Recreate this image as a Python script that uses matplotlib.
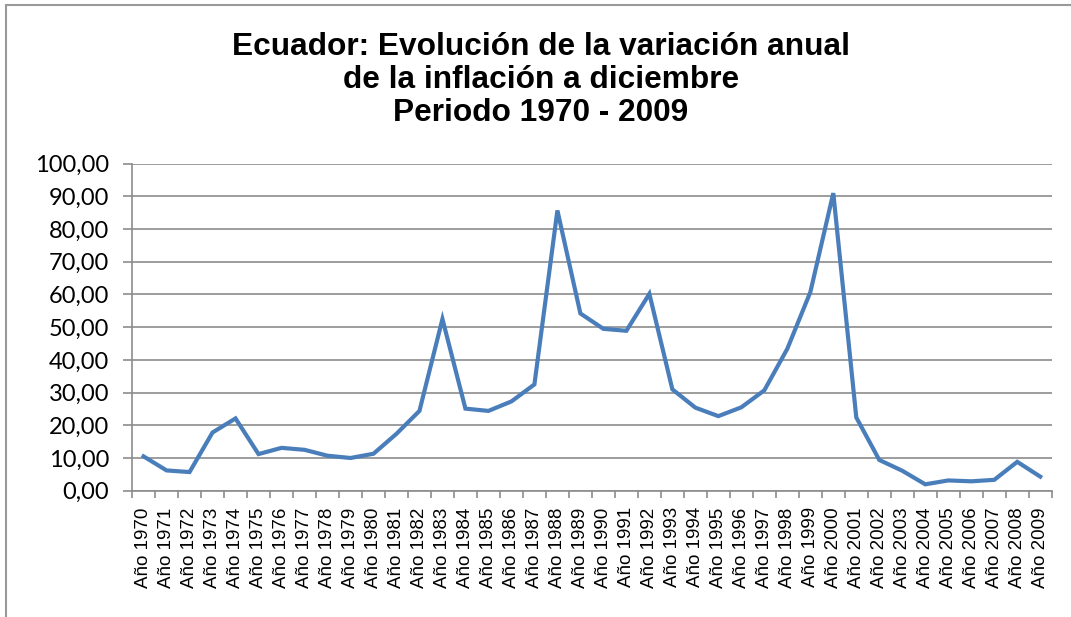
import matplotlib
matplotlib.use("Agg")
from matplotlib import pyplot as plt
from matplotlib.ticker import FuncFormatter, FixedLocator, NullFormatter
from matplotlib.patches import Rectangle

# Data
years = list(range(1970, 2010))
labels = [f"Año {y}" for y in years]
inflation = [10.5, 6.2, 5.7, 17.8, 22.1, 11.2, 13.1, 12.5, 10.7, 10.0,
             11.3, 17.4, 24.4, 52.5, 25.1, 24.4, 27.3, 32.5, 85.7, 54.2,
             49.5, 48.9, 60.2, 31.0, 25.4, 22.8, 25.5, 30.7, 43.4, 60.7,
             91.0, 22.4, 9.4, 6.1, 1.95, 3.14, 2.87, 3.32, 8.83, 4.31]

fig = plt.figure(figsize=(10.71, 6.17), dpi=100)
ax = fig.add_axes([0.1233, 0.2047, 0.8587, 0.53])

x = list(range(len(years)))
ax.plot(x, inflation, color="#4A7EBB", linewidth=3.0, solid_joinstyle="miter")

ax.set_xlim(-0.5, len(years) - 0.5)
ax.set_ylim(0, 100)
ax.set_yticks(range(0, 101, 10))
ax.yaxis.set_major_formatter(FuncFormatter(lambda v, p: f"{v:.2f}".replace(".", ",")))
ax.grid(axis="y", color="#8c8c8c", linewidth=1.2)
ax.set_axisbelow(True)

# labels at category centres, ticks at category boundaries
ax.set_xticks(x)
ax.set_xticklabels(labels, rotation=90, fontsize=13.5, family="Liberation Sans")
ax.tick_params(axis="x", which="major", length=0, pad=12)
ax.xaxis.set_minor_locator(FixedLocator([i - 0.5 for i in range(len(years) + 1)]))
ax.xaxis.set_minor_formatter(NullFormatter())
ax.tick_params(axis="x", which="minor", length=5, color="#8c8c8c", width=1.2)
ax.tick_params(axis="y", length=6.5, color="#8c8c8c", width=1.2, labelsize=17, pad=10)
for t in ax.get_yticklabels():
    t.set_family("Lato")

for s in ["top", "right"]:
    ax.spines[s].set_visible(False)
for s in ["left", "bottom"]:
    ax.spines[s].set_color("#8c8c8c")
    ax.spines[s].set_linewidth(1.2)

fig.text(0.505, 0.870, "Ecuador: Evolución de la variación anual\nde la inflación a diciembre\nPeriodo 1970 - 2009",
         ha="center", va="center", fontsize=22.8, fontweight="bold", family="Liberation Sans",
         linespacing=1.12)

# chart border (only top and left visible in the crop)
fig.patches.append(Rectangle((6 / 1071, -0.1), 1.2, 1.1 - 4.5 / 617, transform=fig.transFigure,
                             fill=False, edgecolor="#999999", linewidth=1.5))

fig.savefig("out.png", dpi=100)
